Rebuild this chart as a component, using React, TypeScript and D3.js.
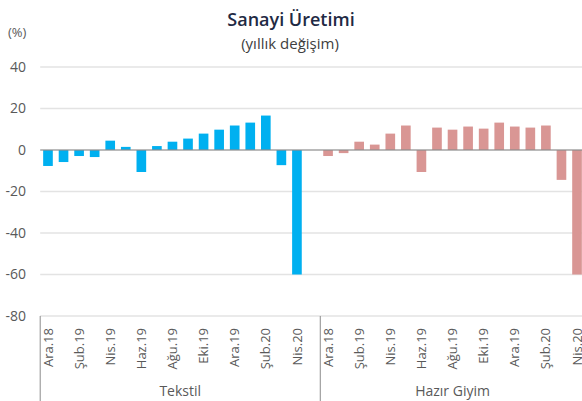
import React from "react";
import * as d3 from "d3";

const months = ["Ara.18","Oca.19","Şub.19","Mar.19","Nis.19","May.19","Haz.19","Tem.19","Ağu.19","Eyl.19","Eki.19","Kas.19","Ara.19","Oca.20","Şub.20","Mar.20","Nis.20"];
const tekstil = [-7.7,-5.8,-2.9,-3.4,4.5,1.5,-10.6,1.9,4.0,5.5,7.9,9.8,11.8,13.2,16.6,-7.3,-60.0];
const hazirGiyim = [-2.9,-1.5,4.0,2.6,7.9,11.8,-10.6,10.8,9.8,11.3,10.3,13.2,11.3,10.8,11.8,-14.4,-60.0];
const groups = ["Tekstil","Hazır Giyim"];
const yTicks = [40,20,0,-20,-40,-60,-80];

const FONT = "'Open Sans', sans-serif";

export default function App() {
  const W = 582, H = 401;
  const left = 40.2, step = 15.56;
  const keys: string[] = [
    ...months.map((_, i) => "T" + i),
    "gap",
    ...months.map((_, i) => "H" + i),
  ];
  const x = d3.scaleBand<string>().domain(keys).range([left, left + step * keys.length]).paddingInner(0.38).paddingOuter(0.19);
  const y = d3.scaleLinear().domain([-80, 40]).range([316, 67]);
  const bars = [
    ...tekstil.map((v, i) => ({ k: "T" + i, v, c: "#00B0F0" })),
    ...hazirGiyim.map((v, i) => ({ k: "H" + i, v, c: "#D99694" })),
  ];
  const sepX = x("H0")! - x.step() * x.paddingInner() / 2;
  const groupSpans = [
    [left, sepX],
    [sepX, left + step * keys.length],
  ];
  const labels = [
    ...months.map((m, i) => ({ k: "T" + i, m, i })),
    ...months.map((m, i) => ({ k: "H" + i, m, i })),
  ].filter(d => d.i % 2 === 0);
  const axisY = y(-80);
  return (
    <svg width={W} height={H} style={{ position: "absolute", left: 0, top: 0, background: "#fff" }} fontFamily={FONT}>
      <text x={291} y={26} textAnchor="middle" fontSize={18} fontWeight={600} fill="#1F2A44">Sanayi Üretimi</text>
      <text x={290} y={49} textAnchor="middle" fontSize={15} fill="#404040">(yıllık değişim)</text>
      <text x={8} y={37} fontSize={13} fill="#595959">(%)</text>
      {yTicks.filter(t => t !== 0 && t !== -80).map(t => (
        <line key={t} x1={left} x2={W} y1={y(t)} y2={y(t)} stroke="#E3E3E3" strokeWidth={1.5} />
      ))}
      <line x1={left} x2={W} y1={axisY} y2={axisY} stroke="#E3E3E3" strokeWidth={1.5} />
      {yTicks.map(t => (
        <text key={t} x={26} y={y(t)} dy="0.35em" textAnchor="end" fontSize={14} fill="#595959">{t}</text>
      ))}
      {bars.map(b => (
        <rect key={b.k} x={x(b.k)} width={x.bandwidth()} y={y(Math.max(0, b.v))} height={Math.abs(y(b.v) - y(0))} fill={b.c} />
      ))}
      <line x1={left} x2={W} y1={y(0)} y2={y(0)} stroke="#8C8C8C" strokeOpacity={0.6} strokeWidth={2} />
      {labels.map(d => {
        const cx = x(d.k)! + x.bandwidth() / 2;
        return (
          <text key={d.k} transform={`translate(${cx},${axisY + 12}) rotate(-90)`} textAnchor="end" dy="0.35em" fontSize={13} fill="#595959">{d.m}</text>
        );
      })}
      {[left, sepX].map((sx, i) => (
        <line key={i} x1={sx} x2={sx} y1={axisY} y2={H} stroke="#8C8C8C" strokeWidth={1} />
      ))}
      {groups.map((g, i) => (
        <text key={g} x={(groupSpans[i][0] + groupSpans[i][1]) / 2} y={396} textAnchor="middle" fontSize={14} fill="#595959">{g}</text>
      ))}
    </svg>
  );
}
